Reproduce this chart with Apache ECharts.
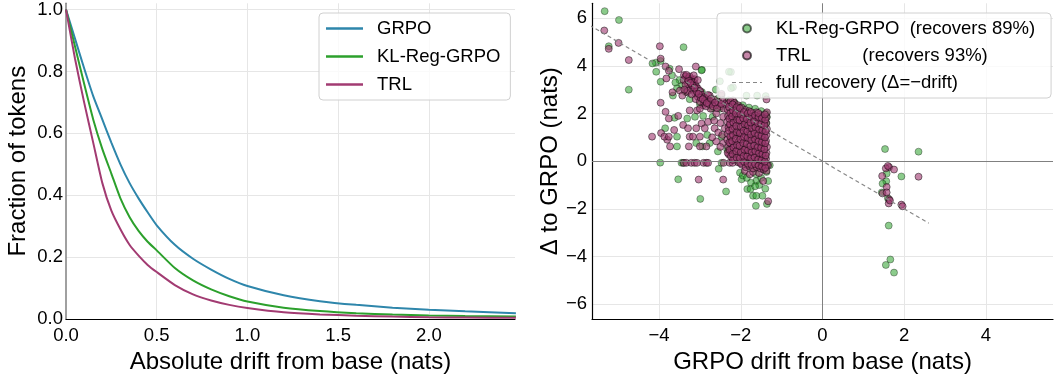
<!DOCTYPE html>
<html>
<head>
<meta charset="utf-8">
<script src="https://cdn.jsdelivr.net/npm/echarts@6/dist/echarts.min.js"></script>
<style>
html,body{margin:0;padding:0;background:#fff;}
#chart{width:1055px;height:379px;}
</style>
</head>
<body>
<div id="chart"></div>
<script>
// ---- Left panel: survival curves of absolute drift ----
const driftX   = [0,0.05,0.1,0.15,0.2,0.25,0.3,0.35,0.4,0.45,0.5,0.6,0.7,0.8,0.9,1.0,1.2,1.4,1.6,1.8,2.0,2.2,2.48];
const grpoFrac = [1.0,0.905,0.81,0.72,0.645,0.57,0.5,0.44,0.39,0.345,0.303,0.24,0.195,0.16,0.13,0.107,0.077,0.058,0.046,0.037,0.030,0.025,0.019];
const klFrac   = [1.0,0.88,0.76,0.645,0.55,0.47,0.39,0.33,0.285,0.25,0.222,0.165,0.125,0.096,0.074,0.057,0.037,0.026,0.019,0.015,0.012,0.010,0.008];
const trlFrac  = [1.0,0.84,0.70,0.57,0.44,0.35,0.29,0.24,0.205,0.175,0.152,0.11,0.08,0.06,0.046,0.036,0.022,0.015,0.011,0.008,0.006,0.005,0.004];
const leftNames = ['GRPO','KL-Reg-GRPO','TRL'];

// ---- Right panel: GRPO drift vs delta to GRPO ----
const klPoints = [
 [-5.33,6.29],[-4.98,5.92],[-5.23,4.82],[-4.74,3.0],[-3.97,-0.06],[-3.53,-0.76],[-3.40,4.78],[-4.08,4.13],[-4.16,4.10],
 [-3.96,4.20],[-4.07,3.75],[-3.74,3.88],[-3.96,3.33],[-3.44,3.17],[-3.56,3.06],[-3.66,2.75],[-3.62,1.82],[-3.85,1.38],
 [-3.56,1.03],[-3.56,0.62],[-3.31,1.79],[-3.09,0.76],[-2.94,0.62],[-3.12,1.86],[-2.92,1.90],[-2.95,3.83],[-2.99,-1.58],
 [-2.36,-1.27],[-2.54,-0.32],[-2.02,-0.48],[-1.84,-1.17],[-1.76,-1.17],[-1.70,-1.45],[-1.62,-1.45],[-1.63,-1.87],
 [-1.47,-1.45],[-1.36,-1.79],[-1.33,-0.83],[-1.62,-0.55],[-1.98,-0.76],[-1.62,-0.83],[-1.29,-0.17],
 [-3.45,-0.07],[-3.41,-0.07],[-2.47,-0.07],
 [-2.69,1.86],[-2.82,1.10],[-2.76,0.76],[-2.56,0.41],[-2.33,0.48],[-2.47,1.03],[-2.51,2.20],[-2.56,2.62],[-2.61,3.0],
 [-2.96,3.81],[-2.24,3.74],[-2.51,3.35],[-2.19,3.10],[-2.47,2.75],[-1.86,2.75],[-1.60,2.75],[-1.39,2.73],[-2.29,3.75],[-2.24,3.06],
 [-2.30,2.55],[-2.15,2.45],[-2.05,2.30],[-1.95,2.35],[-1.80,2.25],[-1.65,2.20],[-1.50,2.10],[-1.38,2.00],[-1.36,1.85],[-1.37,1.60],
 [-2.20,1.80],[-2.10,1.20],[-2.00,0.60],[-1.90,1.50],[-1.80,0.30],[-1.70,1.00],[-1.60,0.10],[-1.50,0.50],[-1.40,0.20],
 [-1.38,-0.10],[-2.25,0.90],[-2.15,0.30],[-1.85,-0.15],[-1.70,-0.30],[-1.55,-0.20],[-1.45,-0.35],[-1.37,-0.45],[-2.05,0.0],[-2.30,0.45],
 [-1.95,-0.60],[-1.85,-0.70],[-1.75,-0.90],[-1.55,-1.00],[-1.40,-1.15],[-1.50,-0.70],[-1.65,-1.05],
 [-3.30,3.50],[-3.20,3.30],[-3.10,3.00],[-2.95,2.90],[-2.80,2.55],[-3.35,2.90],[-3.00,2.40],[-2.70,2.20],[-3.25,2.60],
 [-3.50,3.40],[-3.60,3.30],[-3.68,3.60],
 [1.53,0.51],[2.35,0.40],[1.93,-0.64],[1.62,-2.70],[1.66,-4.12],[1.55,-4.35],[1.75,-4.67],[1.57,-0.52],[1.56,-0.84],
 [1.47,-0.94],[1.45,-1.31],[1.60,-1.55]
];
const trlPoints = [
 [-5.34,5.48],[-5.23,4.71],[-4.99,4.96],[-4.74,4.24],[-3.98,4.82],[-4.17,1.03],[-3.03,-0.77],[-2.43,-0.77],
 [-3.96,4.30],[-3.84,3.97],[-3.76,3.79],[-3.82,3.47],[-3.51,3.86],[-3.39,3.61],[-3.10,3.97],[-3.27,3.47],[-3.20,3.44],
 [-3.13,3.44],[-3.67,2.89],[-3.49,2.96],[-3.43,2.75],[-3.31,2.89],[-3.09,3.10],[-2.98,2.89],
 [-3.96,2.45],[-3.76,1.79],[-3.84,2.07],[-3.53,1.90],[-3.95,1.18],[-3.80,0.90],[-3.87,1.03],[-3.76,1.03],[-3.73,0.62],
 [-3.63,1.31],[-3.41,1.52],[-3.29,1.38],[-3.25,1.03],[-3.17,1.03],[-3.00,1.03],[-2.84,0.62],[-3.00,0.62],[-3.27,0.62],
 [-3.09,1.38],[-2.96,1.58],[-2.88,1.38],[-3.25,2.13],[-3.07,2.13],
 [-3.39,-0.07],[-3.33,-0.07],[-3.21,-0.07],[-3.13,-0.07],[-3.07,-0.07],[-2.91,-0.07],[-2.84,-0.07],[-2.80,-0.07],
 [-2.42,-0.07],[-2.27,-0.07],[-2.20,-0.07],
 [-1.90,-0.41],[-1.33,-1.68],[-1.45,-0.83],[-1.78,-0.55],[-1.33,-0.17],[-1.70,-0.45],[-1.55,-0.50],
 [-2.80,1.65],[-2.74,2.20],[-2.64,1.38],[-2.60,0.83],[-2.43,0.76],[-2.29,0.28],[-2.39,1.38],[-2.43,1.86],[-2.35,2.48],
 [-2.47,2.82],[-2.19,2.55],[-2.76,2.75],[-2.86,2.55],[-2.92,2.34],[-3.00,2.20],[-2.70,1.00],[-2.55,1.20],[-2.50,0.60],
 [-2.60,2.00],[-2.50,1.60],[-2.45,1.10],[-2.65,1.70],[-1.37,2.59],
 [-3.35,3.55],[-3.30,3.45],[-3.25,3.55],[-3.20,3.35],[-3.30,3.30],[-3.22,3.22],[-3.15,3.30],[-3.10,3.18],[-3.25,3.10],
 [-3.18,3.00],[-3.05,3.05],[-3.00,2.95],[-3.12,2.85],[-2.95,2.78],[-2.90,2.68],[-3.05,2.70],[-2.85,2.60],[-2.80,2.78],
 [-2.75,2.50],[-2.90,2.45],[-2.70,2.40],[-2.65,2.58],[-2.60,2.35],[-2.55,2.48],[-2.50,2.30],[-2.45,2.55],[-2.42,2.20],
 [-2.38,2.40],[-3.40,3.40],[-3.35,3.20],[-3.30,2.95],[-3.20,2.80],[-3.10,2.60],[-3.00,2.50],[-2.85,2.30],[-3.15,3.60],
 [-3.05,3.40],[-3.38,3.00],
 [-3.28,3.38],[-3.18,3.18],[-3.08,2.92],[-2.98,2.66],[-2.88,2.52],[-2.78,2.40],[-2.68,2.30],[-2.58,2.22],[-2.48,2.40],
 [-3.33,3.62],[-3.23,3.28],[-3.13,3.08],[-3.03,2.82],[-2.93,2.60],[-2.83,2.44],[-2.73,2.62],[-2.63,2.46],
 [-2.32,0.35],[-2.31,0.62],[-2.33,0.90],[-2.32,1.15],[-2.30,1.42],[-2.33,1.66],[-2.31,1.90],[-2.32,2.15],[-2.30,2.40],
 [-2.24,0.20],[-2.23,0.50],[-2.25,0.76],[-2.24,1.02],[-2.22,1.30],[-2.25,1.55],[-2.23,1.82],[-2.24,2.05],[-2.22,2.30],[-2.25,2.52],
 [-2.15,0.10],[-2.14,0.40],[-2.16,0.66],[-2.15,0.90],[-2.13,1.16],[-2.16,1.45],[-2.14,1.70],[-2.15,1.96],[-2.13,2.20],[-2.16,2.44],
 [-2.06,-0.05],[-2.05,0.26],[-2.07,0.50],[-2.06,0.80],[-2.04,1.05],[-2.07,1.31],[-2.05,1.60],[-2.06,1.86],[-2.04,2.10],[-2.07,2.35],
 [-1.97,-0.15],[-1.96,0.15],[-1.98,0.40],[-1.97,0.66],[-1.95,0.95],[-1.98,1.20],[-1.96,1.46],[-1.97,1.70],[-1.95,1.96],[-1.98,2.25],
 [-1.88,-0.25],[-1.87,0.05],[-1.89,0.30],[-1.88,0.55],[-1.86,0.85],[-1.89,1.10],[-1.87,1.35],[-1.88,1.61],[-1.86,1.85],[-1.89,2.15],
 [-1.79,-0.20],[-1.78,0.10],[-1.80,0.35],[-1.79,0.60],[-1.77,0.90],[-1.80,1.15],[-1.78,1.41],[-1.79,1.65],[-1.77,1.90],[-1.80,2.10],
 [-1.70,-0.30],[-1.69,0.00],[-1.71,0.25],[-1.70,0.50],[-1.68,0.75],[-1.71,1.00],[-1.69,1.26],[-1.70,1.50],[-1.68,1.75],[-1.71,2.00],
 [-1.61,-0.25],[-1.60,0.05],[-1.62,0.30],[-1.61,0.55],[-1.59,0.80],[-1.62,1.05],[-1.60,1.30],[-1.61,1.55],[-1.59,1.80],[-1.62,2.05],
 [-1.52,-0.30],[-1.51,-0.05],[-1.53,0.20],[-1.52,0.45],[-1.50,0.70],[-1.53,0.95],[-1.51,1.20],[-1.52,1.45],[-1.50,1.70],[-1.53,1.95],
 [-1.44,-0.35],[-1.43,-0.10],[-1.45,0.15],[-1.44,0.40],[-1.42,0.65],[-1.45,0.90],[-1.43,1.15],[-1.44,1.40],[-1.42,1.65],[-1.45,1.90],
 [-1.37,-0.40],[-1.36,-0.15],[-1.38,0.10],[-1.37,0.35],[-1.36,0.60],[-1.38,0.85],[-1.37,1.10],[-1.36,1.35],[-1.38,1.60],[-1.37,1.85],[-1.36,2.05],
 [-2.27,0.48],[-2.28,0.78],[-2.26,1.04],[-2.29,1.28],[-2.27,1.55],[-2.28,1.78],[-2.26,2.02],[-2.29,2.28],
 [-2.19,0.05],[-2.20,0.30],[-2.18,0.58],[-2.21,0.84],[-2.19,1.10],[-2.20,1.36],[-2.18,1.62],[-2.21,1.88],[-2.19,2.12],[-2.20,2.38],
 [-2.10,0.15],[-2.11,0.42],[-2.09,0.68],[-2.12,0.94],[-2.10,1.22],[-2.11,1.48],[-2.09,1.74],[-2.12,2.00],[-2.10,2.26],
 [-2.01,-0.08],[-2.02,0.12],[-2.00,0.38],[-2.03,0.64],[-2.01,0.92],[-2.02,1.18],[-2.00,1.44],[-2.03,1.72],[-2.01,1.98],[-2.02,2.22],
 [-1.92,-0.02],[-1.93,0.22],[-1.91,0.48],[-1.94,0.76],[-1.92,1.02],[-1.93,1.28],[-1.91,1.56],[-1.94,1.80],[-1.92,2.06],
 [-1.83,-0.10],[-1.84,0.20],[-1.82,0.46],[-1.85,0.72],[-1.83,0.98],[-1.84,1.24],[-1.82,1.50],[-1.85,1.76],[-1.83,2.00],
 [-1.74,-0.15],[-1.75,0.14],[-1.73,0.38],[-1.76,0.64],[-1.74,0.88],[-1.75,1.12],[-1.73,1.38],[-1.76,1.62],[-1.74,1.86],[-1.75,2.06],
 [-1.65,-0.12],[-1.66,0.16],[-1.64,0.42],[-1.67,0.66],[-1.65,0.92],[-1.66,1.18],[-1.64,1.42],[-1.67,1.68],[-1.65,1.92],
 [-1.56,-0.18],[-1.57,0.08],[-1.55,0.34],[-1.58,0.60],[-1.56,0.84],[-1.57,1.10],[-1.55,1.34],[-1.58,1.60],[-1.56,1.84],[-1.57,2.02],
 [-1.48,-0.22],[-1.49,0.04],[-1.47,0.30],[-1.50,0.56],[-1.48,0.80],[-1.49,1.06],[-1.47,1.30],[-1.50,1.56],[-1.48,1.80],
 [-1.40,-0.28],[-1.41,-0.02],[-1.39,0.24],[-1.42,0.50],[-1.40,0.76],[-1.41,1.00],[-1.39,1.26],[-1.42,1.50],[-1.40,1.74],[-1.41,1.96],
 [2.35,-0.65],[1.63,-0.25],[1.55,-0.30],[1.75,-0.35],[1.46,-0.62],[1.57,-1.08],[1.47,-1.35],[1.57,-1.31],[1.63,-1.60],
 [1.62,-1.77],[1.93,-1.82],[1.96,-1.89],[1.65,-1.65],[1.60,-0.20]
];
const recoveryLine = [[-5.70,5.70],[2.60,-2.60]];
const rightNames = ['KL-Reg-GRPO  (recovers 89%)','TRL          (recovers 93%)','full recovery (\u0394=\u2212drift)'];

const FONT = 'Liberation Sans, Arial, Helvetica, sans-serif';
const minus = v => (v < 0 ? '\u2212' + Math.abs(v) : String(v));
const pair = (xs, ys) => xs.map((x, i) => [x, ys[i]]);
const DASH_ICON = 'path://M0,0h4v1.2h-4zM7,0h4v1.2h-4zM14,0h4v1.2h-4zM21,0h4v1.2h-4zM28,0h2v1.2h-2z';

const chart = echarts.init(document.getElementById('chart'), null, {renderer:'canvas'});
const gridLine = {show:true, lineStyle:{color:'#e6e6e6', width:1}, showMinLine:false, showMaxLine:false};
const tickLbl = (fmt, m) => ({fontSize:18.5, color:'#000', fontFamily:FONT, margin:m, showMaxLabel:false, formatter:fmt});

chart.setOption({
  animation:false,
  backgroundColor:'#fff',
  textStyle:{fontFamily:FONT},
  grid:[
    {left:66, top:3.3, width:449, height:320, containLabel:false},
    {left:592, top:3.3, width:461, height:320, containLabel:false}
  ],
  xAxis:[
    {gridIndex:0, type:'value', min:0, max:2.475, interval:0.5,
     name:'Absolute drift from base (nats)', nameLocation:'middle', nameGap:25,
     nameTextStyle:{fontSize:24, color:'#000', fontFamily:FONT},
     axisLine:{show:true, onZero:false, lineStyle:{color:'#000', width:1.2}},
     axisTick:{show:false}, splitLine:gridLine,
     axisLabel:Object.assign(tickLbl(v => v.toFixed(1), 7), {showMinLabel:true})},
    {gridIndex:1, type:'value', min:-5.64, max:5.64, splitNumber:5,
     name:'GRPO drift from base (nats)', nameLocation:'middle', nameGap:25,
     nameTextStyle:{fontSize:24, color:'#000', fontFamily:FONT},
     axisLine:{show:true, onZero:false, lineStyle:{color:'#000', width:1.2}},
     axisTick:{show:false}, splitLine:gridLine,
     axisLabel:Object.assign(tickLbl(minus, 7), {showMinLabel:false})}
  ],
  yAxis:[
    {gridIndex:0, type:'value', min:0, max:1.02, interval:0.2,
     name:'Fraction of tokens', nameLocation:'middle', nameGap:36, nameRotate:90,
     nameTextStyle:{fontSize:24, color:'#000', fontFamily:FONT},
     axisLine:{show:true, onZero:false, lineStyle:{color:'#808080', width:1.5}},
     axisTick:{show:false}, splitLine:gridLine,
     axisLabel:tickLbl(v => v.toFixed(1), 3)},
    {gridIndex:1, type:'value', min:-6.62, max:6.62, splitNumber:6,
     name:'\u0394 to GRPO (nats)', nameLocation:'middle', nameGap:30, nameRotate:90,
     nameTextStyle:{fontSize:24, color:'#000', fontFamily:FONT},
     axisLine:{show:true, onZero:false, lineStyle:{color:'#000', width:1.2}},
     axisTick:{show:false}, splitLine:gridLine,
     axisLabel:Object.assign(tickLbl(minus, 5), {showMinLabel:false})}
  ],
  legend:[
    {data:leftNames.map(n => ({name:n, icon:'rect'})), orient:'vertical', left:319, top:13,
     itemWidth:37, itemHeight:2.5, itemGap:9,
     padding:[6,10,6,7], backgroundColor:'rgba(255,255,255,0.8)', borderColor:'#d0d0d0', borderWidth:1, borderRadius:4,
     textStyle:{fontSize:18.5, color:'#000', fontFamily:FONT, padding:[0,0,0,9]}, z:10},
    {data:[{name:rightNames[0], icon:'circle'},{name:rightNames[1], icon:'circle'},{name:rightNames[2], icon:DASH_ICON}],
     orient:'vertical', left:717, top:13, itemWidth:30, itemHeight:8, itemGap:8,
     padding:[6,16,6,15], backgroundColor:'rgba(255,255,255,0.8)', borderColor:'#d0d0d0', borderWidth:1, borderRadius:4,
     textStyle:{fontSize:18.5, color:'#000', fontFamily:FONT, padding:[0,0,0,9]}, z:10}
  ],
  series:[
    {name:'GRPO', type:'line', xAxisIndex:0, yAxisIndex:0, showSymbol:false, symbol:'none', smooth:0.2,
     data:pair(driftX, grpoFrac), lineStyle:{color:'#2e86ab', width:2}, itemStyle:{color:'#2e86ab'}},
    {name:'KL-Reg-GRPO', type:'line', xAxisIndex:0, yAxisIndex:0, showSymbol:false, symbol:'none', smooth:0.2,
     data:pair(driftX, klFrac), lineStyle:{color:'#2ca02c', width:2}, itemStyle:{color:'#2ca02c'}},
    {name:'TRL', type:'line', xAxisIndex:0, yAxisIndex:0, showSymbol:false, symbol:'none', smooth:0.2,
     data:pair(driftX, trlFrac), lineStyle:{color:'#a23b72', width:2}, itemStyle:{color:'#a23b72'}},
    {name:rightNames[0], type:'scatter', xAxisIndex:1, yAxisIndex:1, symbolSize:7, data:klPoints,
     itemStyle:{color:'#2ca02c', opacity:0.55, borderColor:'#000', borderWidth:0.6}},
    {name:rightNames[1], type:'scatter', xAxisIndex:1, yAxisIndex:1, symbolSize:7, data:trlPoints,
     itemStyle:{color:'#a23b72', opacity:0.62, borderColor:'#000', borderWidth:0.75}},
    {name:rightNames[2], type:'line', xAxisIndex:1, yAxisIndex:1, showSymbol:false, symbol:'none',
     data:recoveryLine, lineStyle:{color:'#888', width:1.2, type:[4,3]}, itemStyle:{color:'#888'}, z:3,
     markLine:{silent:true, symbol:'none', label:{show:false},
       lineStyle:{color:'#808080', width:1, type:'solid'},
       data:[{xAxis:0},{yAxis:0}]}}
  ]
});
</script>
</body>
</html>
